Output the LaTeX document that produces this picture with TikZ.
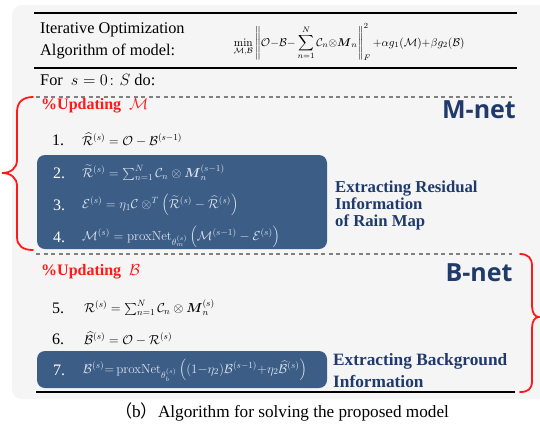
\RequirePackage{fix-cm}
\documentclass[tikz,border=0pt]{standalone}
\usepackage{amsmath}
\usepackage[no-math]{fontspec}
\setmainfont{Liberation Serif}
\newfontfamily\netfont{Open Sans}
\newfontfamily\cjkfont{Noto Sans CJK SC}

\definecolor{panelgray}{HTML}{F5F5F5}
\definecolor{stepblue}{HTML}{3B5D86}
\definecolor{netblue}{HTML}{1F3A6B}
\definecolor{bracered}{HTML}{FF1A1A}
\definecolor{boxtext}{HTML}{DDE4EE}
\definecolor{dashgray}{HTML}{808080}

\begin{document}
\begin{tikzpicture}[x=1pt,y=-1pt,
  rulebar/.style={line width=1.6pt,black},
  sepline/.style={dashgray,line width=1.1pt,dash pattern=on 4pt off 3.5pt},
  panel/.style={fill=panelgray,rounded corners=10pt},
  stepbox/.style={fill=stepblue,rounded corners=8pt},
  curly/.style={bracered,line width=1.8pt,line cap=round},
  txt/.style={anchor=west,inner sep=0pt,font=\fontsize{16.3}{22}\selectfont},
  upd/.style={anchor=west,inner sep=0pt,text=bracered,font=\bfseries\fontsize{16}{18}\selectfont},
  num/.style={anchor=west,inner sep=0pt,font=\fontsize{16}{18}\selectfont},
  eq/.style={anchor=west,inner sep=0pt,font=\fontsize{13}{15}\selectfont},
  innum/.style={num,text=white},
  ineq/.style={eq,text=boxtext},
  note/.style={anchor=west,align=left,inner sep=0pt,text=netblue},
  netlbl/.style={inner sep=0pt,text=netblue,font=\netfont\bfseries\fontsize{25}{28}\selectfont}]

\useasboundingbox (0,0) rectangle (540,424);
\fill[white] (0,0) rectangle (540,424);

% background panel
\path[panel] (12,5) rectangle (560,399);

% horizontal rules and separators
\draw[rulebar] (34,13) -- (517,13);
\draw[rulebar] (34,68) -- (517,68);
\draw[rulebar] (36,392) -- (515,392);
\draw[sepline] (36,97) -- (512,97);
\draw[sepline] (36,254) -- (512,254);

% header
\node[txt,align=left] (title) at (40,41) {Iterative Optimization\\Algorithm of model:};
\node[inner sep=0pt,font=\fontsize{11.3}{13}\selectfont] (model) at (349,42)
  {$\displaystyle\min_{\mathcal M,\mathcal B}\left\|\mathcal O{-}\mathcal B{-}\sum_{n=1}^{N}\mathcal C_n{\otimes}\boldsymbol{M}_n\right\|_F^2{+}\alpha g_1(\mathcal M){+}\beta g_2(\mathcal B)$};
\node[txt] (loop) at (40,80) {For \ $s=0\colon S$ do:};

% highlighted step groups
\path[stepbox] (37,155) rectangle (327,249);
\path[stepbox] (37,351) rectangle (327,388);

% M update
\node[upd] (updM) at (41,106) {\%Updating \ $\mathcal M$};
\node[netlbl] (mnet) at (479,110) {M-net};
\node[num] (n1) at (52,140) {1.};
\node[eq] (e1) at (82,140) {$\widehat{\mathcal R}^{(s)}=\mathcal O-\mathcal B^{(s-1)}$};
\node[innum] (n2) at (53,173) {2.};
\node[ineq] (e2) at (82,173) {$\widetilde{\mathcal R}^{(s)}=\sum_{n=1}^{N}\mathcal C_n\otimes\boldsymbol{M}_n^{(s-1)}$};
\node[innum] (n3) at (53,205) {3.};
\node[ineq] (e3) at (82,205) {$\mathcal E^{(s)}=\eta_1\mathcal C\otimes^{T}\left(\widetilde{\mathcal R}^{(s)}-\widehat{\mathcal R}^{(s)}\right)$};
\node[innum] (n4) at (53,237) {4.};
\node[ineq] (e4) at (82,237) {$\mathcal M^{(s)}=\mathrm{proxNet}_{\theta_m^{(s)}}\left(\mathcal M^{(s-1)}-\mathcal E^{(s)}\right)$};
\node[note,font=\bfseries\fontsize{16.7}{17}\selectfont] (resid) at (335,205)
  {Extracting Residual\\Information\\of Rain Map};

% B update
\node[upd] (updB) at (41,272) {\%Updating \ $\mathcal B$};
\node[netlbl] (bnet) at (479,273) {B-net};
\node[num] (n5) at (52,308) {5.};
\node[eq] (e5) at (84,308) {$\mathcal R^{(s)}=\sum_{n=1}^{N}\mathcal C_n\otimes\boldsymbol{M}_n^{(s)}$};
\node[num] (n6) at (52,339) {6.};
\node[eq] (e6) at (84,339) {$\widehat{\mathcal B}^{(s)}=\mathcal O-\mathcal R^{(s)}$};
\node[innum] (n7) at (53,370) {7.};
\node[ineq] (e7) at (83,370) {$\mathcal B^{(s)}{=}\,\mathrm{proxNet}_{\theta_b^{(s)}}\left((1{-}\eta_2)\mathcal B^{(s-1)}{+}\eta_2\widehat{\mathcal B}^{(s)}\right)$};
\node[note,font=\bfseries\fontsize{17.3}{22}\selectfont] (backg) at (333,371)
  {Extracting Background\\Information};

% braces grouping the two sub-networks
\draw[curly] (33,97) .. controls (23,97) and (17,102) .. (17,112) -- (17,160)
  .. controls (17,168) and (11,173) .. (2,173)
  .. controls (11,173) and (17,178) .. (17,186) -- (17,237)
  .. controls (17,246) and (23,250) .. (33,250);
\draw[curly] (520,254) .. controls (528,254) and (532,258) .. (532,266) -- (532,306)
  .. controls (532,313) and (535,317) .. (539,317)
  .. controls (535,317) and (532,321) .. (532,328) -- (532,381)
  .. controls (532,389) and (528,392) .. (520,392);

% caption
\node[inner sep=0pt,font=\fontsize{17.2}{19}\selectfont] (cap) at (282,412)
  {{\cjkfont （}b{\cjkfont ）}Algorithm for solving the proposed model};
\end{tikzpicture}
\end{document}
